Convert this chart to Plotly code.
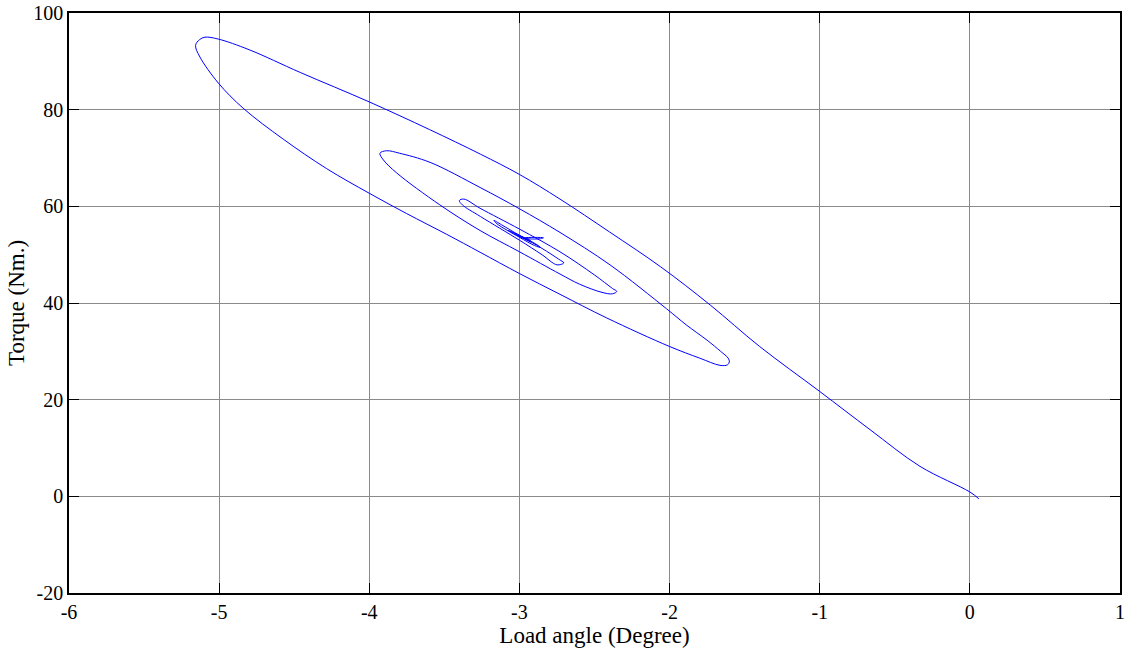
import plotly.graph_objects as go

# Trajectory (load angle in degrees, torque in Nm)
load_angle = [
    # start near origin, outer upper branch going up-left
    0.06, 0.0, -0.332, -0.665, -1.0, -1.4, -1.73, -2.06, -2.4, -2.73, -3.0, -3.26, -3.6,
    -4.0, -4.46, -4.80, -5.005, -5.094, -5.13, -5.157,
    # outer lower arm going down-right
    -5.128, -5.005, -4.84, -4.573, -4.284, -4.0, -3.751, -3.484, -3.262, -3.0, -2.73, -2.418, -2.0,
    -1.80, -1.664, -1.615, -1.602,
    # second upper arm going up-left
    -1.61, -1.66, -1.75, -1.89, -2.02, -2.397, -2.73, -3.0, -3.262, -3.595, -3.80, -3.884, -3.929,
    # second lower arm going down-right
    -3.906, -3.817, -3.53, -3.262, -3.0, -2.73, -2.6, -2.45, -2.38, -2.352,
    # third upper arm
    -2.38, -2.5, -2.73, -3.0, -3.262, -3.37, -3.40,
    # third lower arm
    -3.38, -3.26, -3.0, -2.85, -2.75, -2.705,
    # fourth loop
    -2.74, -2.85, -3.0, -3.12, -3.17,
    -3.15, -3.0, -2.90, -2.86,
    # settling in the centre
    -2.88, -3.0, -3.074, -3.05, -2.92, -2.93, -3.02, -2.97, -2.86, -2.84, -2.96, -2.95,
]
torque = [
    -0.5, 0.9, 6.2, 13.8, 21.7, 31.0, 39.6, 47.5, 54.7, 61.5, 66.6, 70.8, 75.9,
    81.6, 87.7, 92.4, 94.6, 95.0, 94.5, 93.3,
    90.9, 85.5, 80.3, 73.9, 67.8, 62.7, 58.5, 54.2, 50.5, 46.1, 41.8, 36.9, 31.0,
    28.6, 27.1, 27.2, 27.8,
    28.6, 30.0, 32.3, 35.5, 38.8, 47.9, 54.6, 59.5, 63.9, 69.1, 71.0, 71.5, 71.0,
    69.6, 66.9, 60.3, 55.0, 50.6, 46.0, 43.9, 42.2, 41.9, 42.4,
    43.0, 45.8, 50.6, 55.3, 59.6, 61.5, 61.2,
    60.3, 57.9, 53.0, 50.0, 47.9, 48.3,
    49.1, 51.3, 54.0, 56.2, 57.1,
    56.4, 53.6, 51.9, 51.5,
    52.0, 54.0, 55.0, 54.6, 52.6, 53.0, 54.1, 53.4, 53.3, 53.5, 53.5, 53.4,
]

x_ticks = [-6, -5, -4, -3, -2, -1, 0, 1]
y_ticks = [-20, 0, 20, 40, 60, 80, 100]

font_family = "Liberation Serif, Times New Roman, serif"

fig = go.Figure()
fig.add_trace(go.Scatter(
    x=load_angle, y=torque, mode="lines",
    line=dict(color="#0000ff", width=1, shape="spline", smoothing=1.0),
    showlegend=False, hoverinfo="skip",
))

axis_common = dict(
    showline=True, linecolor="black", linewidth=1.5, mirror="ticks",
    ticks="inside", ticklen=10, tickwidth=1, tickcolor="black",
    showgrid=True, gridcolor="#8a8a8a", gridwidth=1, zeroline=False,
    tickfont=dict(family=font_family, size=20, color="black"),
    automargin=False,
)

fig.update_layout(
    width=1127, height=650,
    margin=dict(l=69, r=7, t=13, b=57),
    paper_bgcolor="white", plot_bgcolor="white",
    font=dict(family=font_family, color="black"),
    xaxis=dict(
        range=[-6, 1], tickmode="array", tickvals=x_ticks, ticktext=[str(v) for v in x_ticks],
        title=dict(text="Load angle (Degree)", font=dict(family=font_family, size=23), standoff=2),
        **axis_common,
    ),
    yaxis=dict(
        range=[-20, 100], tickmode="array", tickvals=y_ticks, ticktext=[str(v) for v in y_ticks],
        title=dict(text="Torque (Nm.)", font=dict(family=font_family, size=23), standoff=2),
        **axis_common,
    ),
)

fig.write_html("out.html")
